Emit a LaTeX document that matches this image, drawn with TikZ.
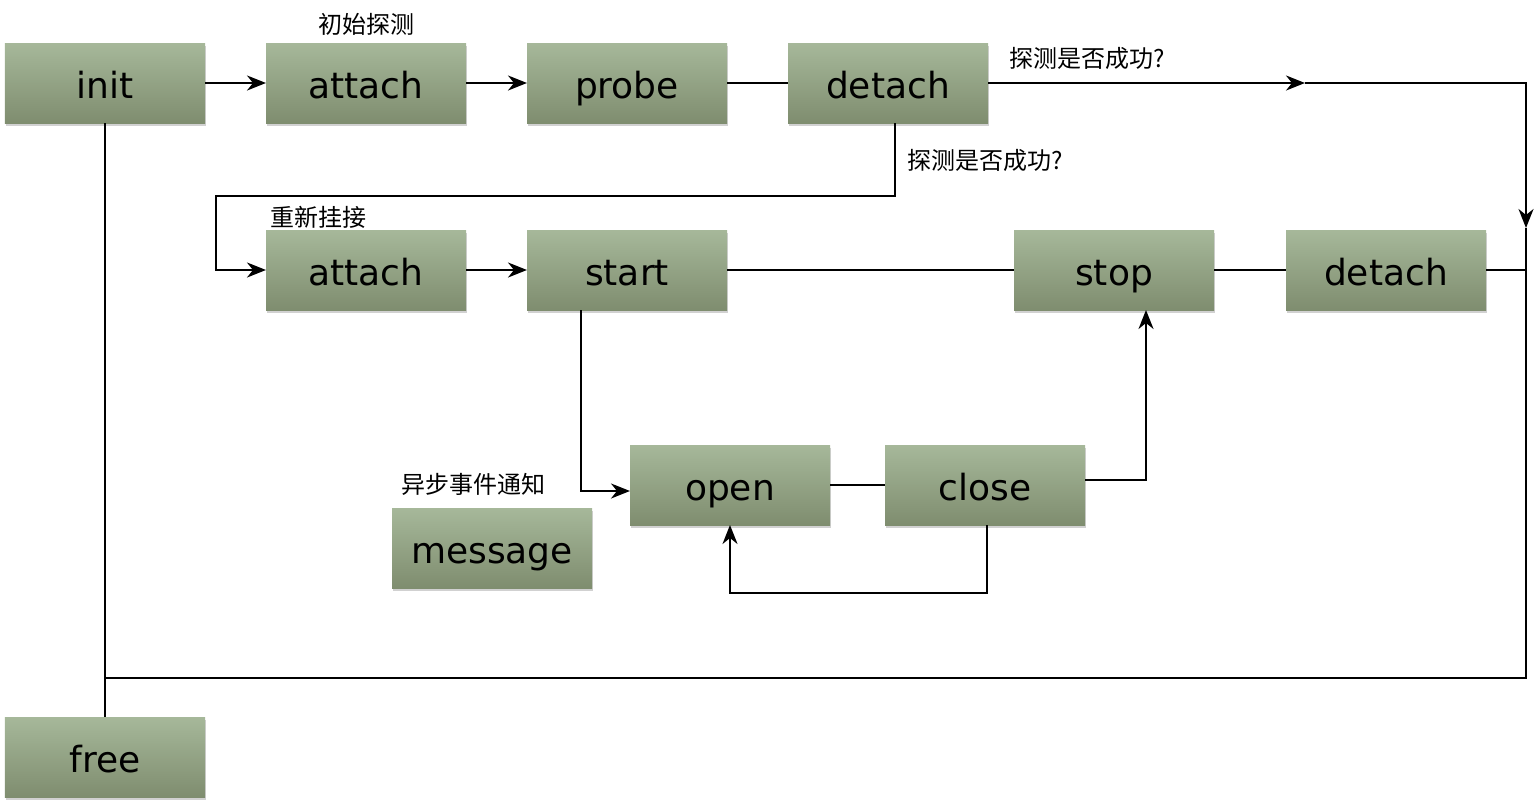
\documentclass[tikz,border=0pt]{standalone}
\usepackage{fontspec}
\setmainfont{DejaVu Sans}
\newfontfamily\cjk{Noto Sans CJK SC}
\usepackage{tikz}
\usetikzlibrary{arrows.meta, positioning, shadows}

\definecolor{boxtop}{HTML}{A6B89A}
\definecolor{boxbot}{HTML}{7F8D6F}

\tikzset{
  blk/.style={rectangle, minimum width=100pt, minimum height=40pt, inner sep=0pt, outer sep=0pt,
    text height=16pt, text depth=1pt,
    top color=boxtop, bottom color=boxbot,
    drop shadow={shadow xshift=0.5pt, shadow yshift=-1.5pt, fill=black!18, opacity=1},
    font=\fontsize{18}{21}\selectfont},
  lbl/.style={inner sep=0pt, font=\cjk\fontsize{12}{14}\selectfont},
  arr/.style={-{Stealth[length=9.5pt, width=7.5pt, inset=3pt]}},
}

\begin{document}
\begin{tikzpicture}[node distance=30.5pt, line width=1pt]
    \useasboundingbox (-52.5pt,41.5pt) rectangle (716.5pt,-360.5pt);

    % Nodes
    \node (init) [blk] at (0,0) {init};
    \node (attach1) [blk, right=of init] {attach};
    \node (probe) [blk, right=of attach1] {probe};
    \node (detach1) [blk, right=of probe] {detach};
    \node (attach2) [blk, below=53.5pt of attach1] {attach};
    \node (start) [blk, right=of attach2] {start};
    \node (stop) [blk, right=143.5pt of start] {stop};
    \node (detach2) [blk, right=36pt of stop] {detach};
    \node (open) [blk, below=67.5pt of start, xshift=51.5pt] {open};
    \node (close) [blk, right=27.5pt of open] {close};
    \node (message) [blk, left=19pt of open, yshift=-31.5pt] {message};
    \node (free) [blk, below=297pt of init] {free};

    % Labels
    \node (lprobe) [lbl] at ([yshift=9.5pt]attach1.north) {初始探测};
    \node (lok1) [lbl] at ([xshift=49.5pt,yshift=-7.5pt]detach1.north east) {探测是否成功?};
    \node (lok2) [lbl] at ([xshift=48.5pt,yshift=-18.5pt]detach1.south) {探测是否成功?};
    \node (lre) [lbl] at ([xshift=-24pt,yshift=6.5pt]attach2.north) {重新挂接};
    \node (lmsg) [lbl] at ([xshift=-9.5pt,yshift=12pt]message.north) {异步事件通知};

    % Helper points
    \coordinate (rx) at ([xshift=20pt]detach2.east);
    \coordinate (mid) at ([xshift=-110.5pt]rx |- detach1);
    \coordinate (rin) at ([yshift=1pt]rx |- detach2.north);
    \coordinate (bot) at ([yshift=19.5pt]free.north);

    % Edges
    \draw[arr] (init) -- (attach1);
    \draw[arr] (attach1) -- (probe);
    \draw (probe) -- (detach1);
    \draw[arr] (detach1) -- (mid);
    \draw[arr] (mid) -| (rin);
    \draw (rin) -- (rx |- bot) -- (bot);
    \draw (detach2) -- (rx);
    \draw (init) -- (free);
    \draw[arr] ([xshift=3.5pt]detach1.south) |- ([xshift=-25pt,yshift=17pt]attach2.north west) |- (attach2.west);
    \draw[arr] (attach2) -- (start);
    \draw (start) -- (stop);
    \draw (stop) -- (detach2);
    \draw[arr] ([xshift=-23pt]start.south) |- ([yshift=-3pt]open.west);
    \draw (open) -- (close);
    \draw[arr] ([yshift=2.5pt]close.east) -| ([xshift=16pt]stop.south);
    \draw[arr] ([xshift=1pt]close.south) -- ++(0,-34pt) -| (open.south);
\end{tikzpicture}
\end{document}
